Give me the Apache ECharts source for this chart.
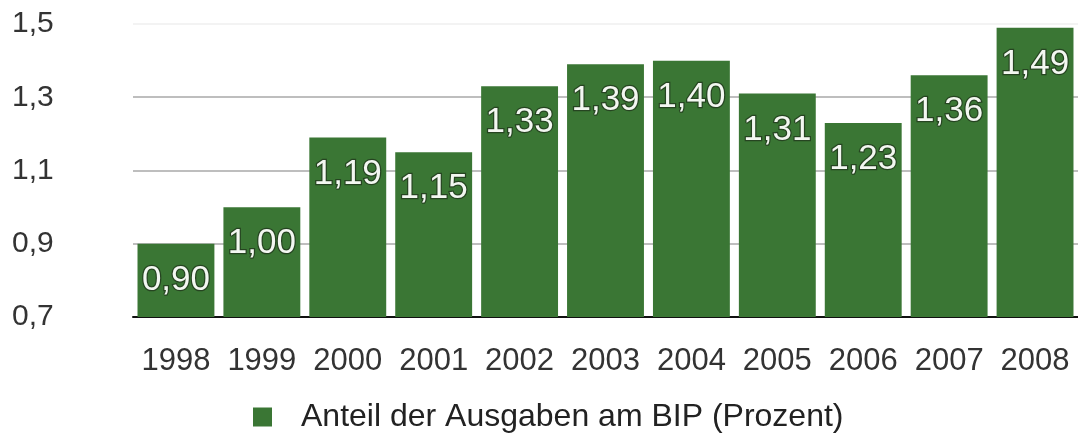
<!DOCTYPE html>
<html>
<head>
<meta charset="utf-8">
<title>Anteil der Ausgaben am BIP</title>
<script src="https://cdn.jsdelivr.net/npm/echarts@6/dist/echarts.min.js"></script>
<style>
  html, body { margin: 0; padding: 0; background: #fff; }
  #chart { width: 1078px; height: 436px; }
</style>
</head>
<body>
<div id="chart"></div>
<script>
// Jahre (Kategorien) und Anteil der Ausgaben am BIP in Prozent
const years = ['1998', '1999', '2000', '2001', '2002', '2003', '2004', '2005', '2006', '2007', '2008'];
const shares = [0.90, 1.00, 1.19, 1.15, 1.33, 1.39, 1.40, 1.31, 1.23, 1.36, 1.49];
const seriesName = 'Anteil der Ausgaben am BIP (Prozent)';

// Werteachse 0,7 … 1,5; beschriftet wird jeder zweite Schritt
const yMin = 0.7;
const yMax = 1.5;
const yStep = 0.1;

const font = 'Liberation Sans, Arial, Helvetica, sans-serif';
const deComma = (v, digits) => v.toFixed(digits).replace('.', ',');

const chart = echarts.init(document.getElementById('chart'), null, { renderer: 'canvas' });

chart.setOption({
  animation: false,
  backgroundColor: '#ffffff',
  textStyle: { fontFamily: font },
  grid: { left: 133, top: 24, width: 948, bottom: 119, containLabel: false },
  legend: {
    left: 248,
    top: 396,
    itemWidth: 19,
    itemHeight: 19,
    icon: 'rect',
    itemGap: 20,
    textStyle: { fontSize: 32, color: '#222', fontFamily: font, padding: [0, 0, 0, 24] },
    data: [seriesName]
  },
  xAxis: {
    type: 'category',
    data: years,
    axisLine: { show: true, lineStyle: { color: '#111', width: 2 } },
    axisTick: { show: false },
    axisLabel: {
      color: '#333',
      fontSize: 31,
      margin: 29,
      fontFamily: font,
      interval: 0,
      hideOverlap: false
    },
    splitLine: { show: false }
  },
  yAxis: {
    type: 'value',
    min: yMin,
    max: yMax,
    interval: yStep,
    axisLine: { show: false },
    axisTick: { show: false },
    axisLabel: {
      color: '#333',
      fontSize: 30,
      fontFamily: font,
      align: 'left',
      margin: 121,
      formatter: function (v) {
        return Math.round(v * 10) % 2 === 1 ? deComma(v, 1) : '';
      }
    },
    splitLine: {
      show: true,
      lineStyle: {
        width: 1.5,
        color: ['transparent', 'transparent', '#a8a8a8', 'transparent', '#a8a8a8',
                'transparent', '#a8a8a8', 'transparent', '#efefef']
      }
    }
  },
  series: [{
    name: seriesName,
    type: 'bar',
    data: shares,
    barCategoryGap: '10.5%',
    itemStyle: { color: '#3a7634' },
    label: {
      show: true,
      position: 'insideTop',
      distance: 19,
      fontSize: 35,
      lineHeight: 35,
      fontFamily: font,
      color: '#f3f7f1',
      textBorderColor: 'rgba(35,60,30,0.85)',
      textBorderWidth: 2.5,
      formatter: function (p) { return deComma(p.value, 2); }
    }
  }]
});
</script>
</body>
</html>
